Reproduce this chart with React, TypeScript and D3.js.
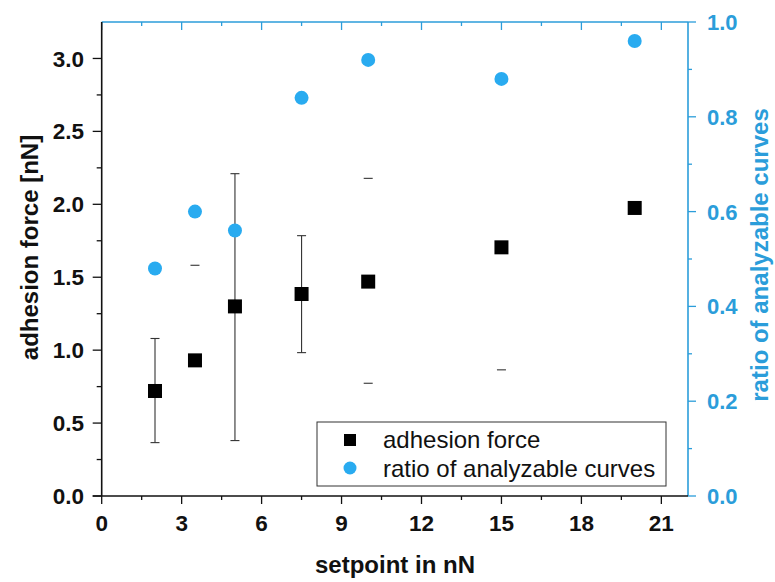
import React from "react";
import * as d3 from "d3";

const setpoints = [2, 3.5, 5, 7.5, 10, 15, 20];
const adhesion = [0.72, 0.93, 1.3, 1.385, 1.47, 1.705, 1.975];
const errHigh: (number | null)[] = [1.08, 1.582, 2.21, 1.785, 2.178, null, null];
const errLow: (number | null)[] = [0.366, null, 0.38, 0.983, 0.773, 0.865, null];
const errStem = [true, false, true, true, false, false, false];
const ratio = [0.48, 0.6, 0.56, 0.84, 0.92, 0.88, 0.96];

const xTicks = [0, 3, 6, 9, 12, 15, 18, 21];
const xMinor = [1.5, 4.5, 7.5, 10.5, 13.5, 16.5, 19.5];
const yLeftTicks = [0, 0.5, 1.0, 1.5, 2.0, 2.5, 3.0];
const yLeftMinor = [0.25, 0.75, 1.25, 1.75, 2.25, 2.75];
const yRightTicks = [0, 0.2, 0.4, 0.6, 0.8, 1.0];
const yRightMinor = [0.1, 0.3, 0.5, 0.7, 0.9];

const legendLabels = ["adhesion force", "ratio of analyzable curves"];

const BLUE = "#2b9dda";
const DOT = "#29abf0";
const FONT = "'Liberation Sans', Arial, sans-serif";

export default function App() {
  const left = 101.7, right = 688, top = 22, bottom = 496;
  const x = d3.scaleLinear().domain([0, 22]).range([left, right]);
  const yL = d3.scaleLinear().domain([0, 3.25]).range([bottom, top]);
  const yR = d3.scaleLinear().domain([0, 1]).range([bottom, top]);
  const fmt1 = d3.format(".1f");

  return (
    <svg width={775} height={582} style={{ position: "absolute", left: 0, top: 0, background: "#fff" }}>
      {/* top axis (blue) */}
      <line x1={left} x2={right} y1={top} y2={top} stroke={BLUE} strokeWidth={1.6} />
      {xTicks.map((t) => (
        <line key={"tt" + t} x1={x(t)} x2={x(t)} y1={top} y2={top + 8} stroke={BLUE} strokeWidth={1.3} />
      ))}
      {xMinor.map((t) => (
        <line key={"tm" + t} x1={x(t)} x2={x(t)} y1={top} y2={top + 4} stroke={BLUE} strokeWidth={1.3} />
      ))}

      {/* right axis (blue) */}
      <line x1={right} x2={right} y1={top} y2={bottom} stroke={BLUE} strokeWidth={1.6} />
      {yRightTicks.map((t) => (
        <g key={"rt" + t}>
          <line x1={right} x2={right + 8} y1={yR(t)} y2={yR(t)} stroke={BLUE} strokeWidth={1.3} />
          <text x={707} y={yR(t)} dy="0.36em" fill={BLUE} fontFamily={FONT} fontWeight="bold" fontSize={22}>
            {fmt1(t)}
          </text>
        </g>
      ))}
      {yRightMinor.map((t) => (
        <line key={"rm" + t} x1={right} x2={right + 4} y1={yR(t)} y2={yR(t)} stroke={BLUE} strokeWidth={1.3} />
      ))}

      {/* bottom axis */}
      <line x1={left - 9} x2={right} y1={bottom} y2={bottom} stroke="#111" strokeWidth={1.6} />
      {xTicks.map((t) => (
        <g key={"bt" + t}>
          <line x1={x(t)} x2={x(t)} y1={bottom} y2={bottom + 8} stroke="#111" strokeWidth={1.3} />
          <text x={x(t)} y={531} textAnchor="middle" fontFamily={FONT} fontWeight="bold" fontSize={22.5} fill="#111">
            {t}
          </text>
        </g>
      ))}
      {xMinor.map((t) => (
        <line key={"bm" + t} x1={x(t)} x2={x(t)} y1={bottom} y2={bottom + 4} stroke="#111" strokeWidth={1.3} />
      ))}

      {/* left axis */}
      <line x1={left} x2={left} y1={top} y2={bottom} stroke="#111" strokeWidth={1.6} />
      {yLeftTicks.map((t) => (
        <g key={"lt" + t}>
          <line x1={left - 9} x2={left} y1={yL(t)} y2={yL(t)} stroke="#111" strokeWidth={1.3} />
          <text x={84} y={yL(t)} dy="0.36em" textAnchor="end" fontFamily={FONT} fontWeight="bold" fontSize={22.5} fill="#111">
            {fmt1(t)}
          </text>
        </g>
      ))}
      {yLeftMinor.map((t) => (
        <line key={"lm" + t} x1={left - 5} x2={left} y1={yL(t)} y2={yL(t)} stroke="#111" strokeWidth={1.3} />
      ))}

      {/* axis titles */}
      <text x={395} y={573} textAnchor="middle" fontFamily={FONT} fontWeight="bold" fontSize={24} fill="#111">
        setpoint in nN
      </text>
      <text transform={`translate(38,247.5) rotate(-90)`} textAnchor="middle" fontFamily={FONT} fontWeight="bold" fontSize={24} fill="#111">
        adhesion force [nN]
      </text>
      <text transform={`translate(768,255) rotate(-90)`} textAnchor="middle" fontFamily={FONT} fontWeight="bold" fontSize={24} fill={BLUE}>
        ratio of analyzable curves
      </text>

      {/* error bars */}
      {setpoints.map((s, i) => {
        const cx = x(s);
        const hi = errHigh[i];
        const lo = errLow[i];
        return (
          <g key={"e" + i} stroke="#333" strokeWidth={1.1}>
            {errStem[i] && hi != null && lo != null && (
              <line x1={cx} x2={cx} y1={yL(hi)} y2={yL(lo)} />
            )}
            {hi != null && <line x1={cx - 4.5} x2={cx + 4.5} y1={yL(hi)} y2={yL(hi)} />}
            {lo != null && <line x1={cx - 4.5} x2={cx + 4.5} y1={yL(lo)} y2={yL(lo)} />}
          </g>
        );
      })}

      {/* squares */}
      {setpoints.map((s, i) => (
        <rect key={"s" + i} x={x(s) - 7} y={yL(adhesion[i]) - 7} width={14} height={14} fill="#000" />
      ))}

      {/* circles */}
      {setpoints.map((s, i) => (
        <circle key={"c" + i} cx={x(s)} cy={yR(ratio[i])} r={7} fill={DOT} />
      ))}

      {/* legend */}
      <rect x={317} y={422} width={349} height={64} fill="#fff" stroke="#333" strokeWidth={1} />
      <rect x={344} y={434} width={12} height={12} fill="#000" />
      <circle cx={350} cy={468} r={6.5} fill={DOT} />
      <text x={383} y={448} fontFamily={FONT} fontSize={24} fill="#111">
        {legendLabels[0]}
      </text>
      <text x={383} y={477} fontFamily={FONT} fontSize={24} fill="#111">
        {legendLabels[1]}
      </text>
    </svg>
  );
}
